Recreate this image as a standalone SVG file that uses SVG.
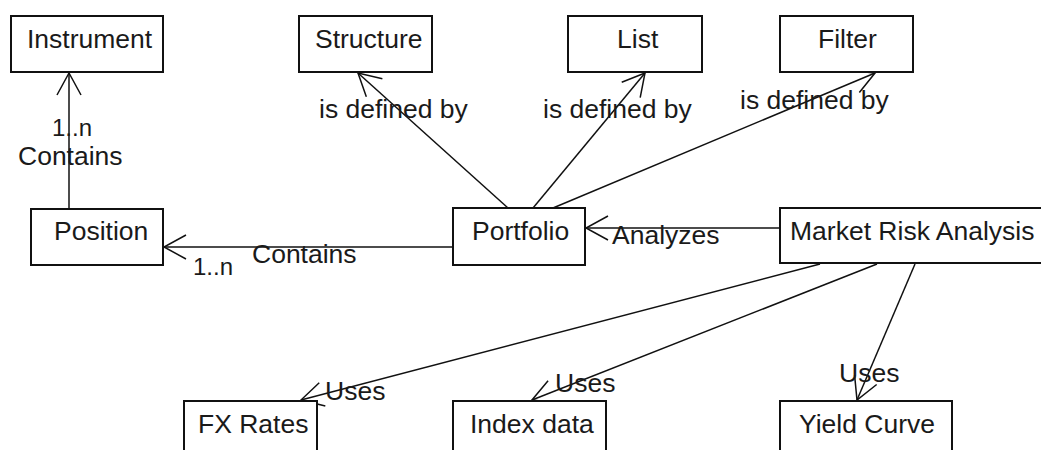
<svg xmlns="http://www.w3.org/2000/svg" width="1041" height="450" viewBox="0 0 1041 450">
<style>
.box{fill:#fff;stroke:#111;stroke-width:2}
.lbl{font-family:"Liberation Sans",Arial,sans-serif;font-size:26.5px;fill:#1a1a1a}
.mult{font-family:"Liberation Sans",Arial,sans-serif;font-size:24px;fill:#1a1a1a}
.edge{fill:none;stroke:#111;stroke-width:1.5}
</style>
<defs>
<marker id="open" markerUnits="userSpaceOnUse" markerWidth="40" markerHeight="40" refX="0" refY="0" viewBox="-30 -20 40 40" orient="auto" overflow="visible">
<path d="M-22,-12 L0,0 L-22,12" fill="none" stroke="#111" stroke-width="1.5"/>
</marker>
</defs>
<rect width="1041" height="450" fill="#fff"/>
<g id="connectors">
<line class="edge" x1="69" y1="209" x2="69" y2="73" marker-end="url(#open)"/>
<line class="edge" x1="453" y1="247" x2="164" y2="247" marker-end="url(#open)"/>
<line class="edge" x1="780" y1="228" x2="586" y2="228" marker-end="url(#open)"/>
<line class="edge" x1="508" y1="208" x2="358" y2="73" marker-end="url(#open)"/>
<line class="edge" x1="533" y1="208" x2="645" y2="73" marker-end="url(#open)"/>
<line class="edge" x1="553" y1="208" x2="875" y2="73" marker-end="url(#open)"/>
<line class="edge" x1="820" y1="264" x2="301" y2="400" marker-end="url(#open)"/>
<line class="edge" x1="877" y1="264" x2="532" y2="400" marker-end="url(#open)"/>
<line class="edge" x1="915" y1="264" x2="857" y2="400" marker-end="url(#open)"/>
<text class="mult" x="52" y="136">1..n</text>
<text class="lbl" x="18" y="165">Contains</text>
<text class="lbl" x="252" y="263">Contains</text>
<text class="mult" x="193" y="275">1..n</text>
<text class="lbl" x="612" y="244">Analyzes</text>
<text class="lbl" x="319" y="118">is defined by</text>
<text class="lbl" x="543" y="118">is defined by</text>
<text class="lbl" x="740" y="109">is defined by</text>
<text class="lbl" x="325" y="400">Uses</text>
<text class="lbl" x="555" y="392">Uses</text>
<text class="lbl" x="839" y="382">Uses</text>
</g>
<g id="instrument"><rect class="box" x="11" y="16" width="152" height="56"/><text class="lbl" x="27" y="48">Instrument</text></g>
<g id="structure"><rect class="box" x="299" y="16" width="133" height="56"/><text class="lbl" x="315" y="48">Structure</text></g>
<g id="list"><rect class="box" x="568" y="16" width="134" height="56"/><text class="lbl" x="617" y="48">List</text></g>
<g id="filter"><rect class="box" x="780" y="16" width="133" height="56"/><text class="lbl" x="818" y="48">Filter</text></g>
<g id="position"><rect class="box" x="31" y="209" width="132" height="56"/><text class="lbl" x="54" y="240">Position</text></g>
<g id="portfolio"><rect class="box" x="453" y="208" width="132" height="57"/><text class="lbl" x="472" y="240">Portfolio</text></g>
<g id="market-risk-analysis"><rect class="box" x="780" y="208" width="290" height="55"/><text class="lbl" x="790" y="240">Market Risk Analysis</text></g>
<g id="fx-rates"><rect class="box" x="184" y="401" width="133" height="56"/><text class="lbl" x="198" y="433">FX Rates</text></g>
<g id="index-data"><rect class="box" x="453" y="401" width="153" height="56"/><text class="lbl" x="470" y="433">Index data</text></g>
<g id="yield-curve"><rect class="box" x="780" y="401" width="172" height="56"/><text class="lbl" x="799" y="433">Yield Curve</text></g>
</svg>
